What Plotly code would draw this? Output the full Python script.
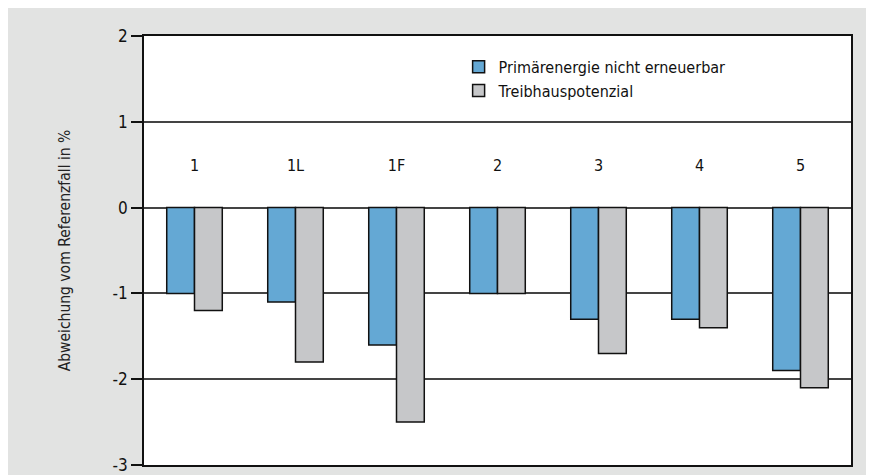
import plotly.graph_objects as go

categories = ["1", "1L", "1F", "2", "3", "4", "5"]
primaerenergie = [-1.0, -1.1, -1.6, -1.0, -1.3, -1.3, -1.9]
treibhaus = [-1.2, -1.8, -2.5, -1.0, -1.7, -1.4, -2.1]
y_ticks = [-3, -2, -1, 0, 1, 2]
y_tick_labels = ["-3", "-2", "-1", "0", "1", "2"]
label_y = [0.47] * len(categories)

FONT = "DejaVu Sans Condensed, Liberation Sans Narrow, Roboto, sans-serif"

fig = go.Figure()
fig.add_trace(go.Bar(x=categories, y=primaerenergie, name="Primärenergie nicht erneuerbar",
                     marker=dict(color="#64a8d4", line=dict(color="#111111", width=1.5))))
fig.add_trace(go.Bar(x=categories, y=treibhaus, name="Treibhauspotenzial",
                     marker=dict(color="#c6c7c9", line=dict(color="#111111", width=1.5))))
fig.add_trace(go.Scatter(x=categories, y=label_y, text=categories, mode="text",
                         textfont=dict(size=16, color="#111111", family=FONT),
                         showlegend=False, hoverinfo="skip"))

W, H = 900, 490
fig.update_layout(
    width=W, height=H,
    margin=dict(l=136, r=W - 136 - 707, t=28, b=H - 28 - 429, autoexpand=False),
    paper_bgcolor="#e2e3e2", plot_bgcolor="white",
    barmode="group", bargap=0.45, bargroupgap=0.0,
    font=dict(family=FONT, size=16, color="#111111"),
    showlegend=True,
    legend=dict(x=0.445, y=0.968, xanchor="left", yanchor="top", bgcolor="rgba(0,0,0,0)",
                font=dict(size=16, family=FONT), tracegroupgap=0, itemwidth=30),
    xaxis=dict(type="category", showticklabels=False, ticks="", showgrid=False, showline=True, mirror=True,
               linecolor="#111111", linewidth=1.5, zeroline=False, automargin=False),
    yaxis=dict(range=[-3, 2], tickvals=y_ticks, ticktext=y_tick_labels, automargin=False,
               showgrid=True, gridcolor="#444444", gridwidth=1.5,
               zeroline=True, zerolinecolor="#444444", zerolinewidth=1.5,
               showline=True, mirror=True, linecolor="#111111", linewidth=1.5,
               ticks="outside", ticklen=11, tickwidth=1.5, tickcolor="#111111",
               tickfont=dict(size=17, family=FONT),
               title=dict(text="Abweichung vom Referenzfall in %", standoff=38,
                          font=dict(size=15.5, family=FONT, color="#222222"))),
)

fig.write_html("out.html")
